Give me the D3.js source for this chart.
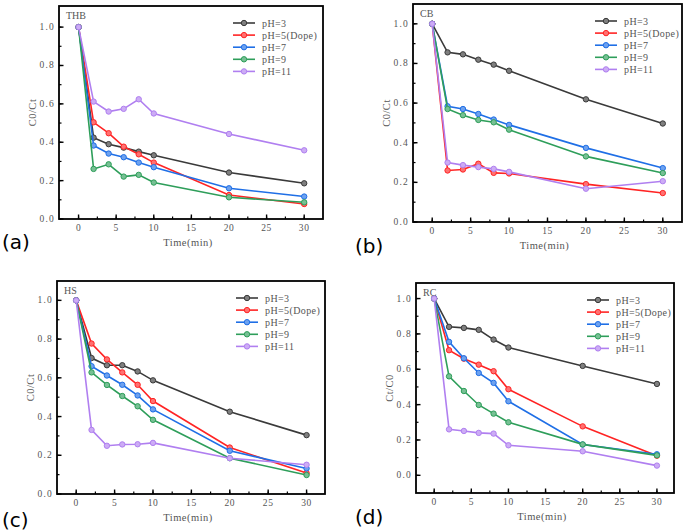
<!DOCTYPE html>
<html><head><meta charset="utf-8">
<script src="https://cdn.jsdelivr.net/npm/d3@7"></script>
<style>body{margin:0;background:#fff}svg{display:block}</style>
</head><body>
<svg id="chart" width="685" height="532"></svg>
<script>
const timeValues = [0, 2, 4, 6, 8, 10, 20, 30];
const seriesNames = ["pH=3", "pH=5(Dope)", "pH=7", "pH=9", "pH=11"];
const seriesColors = ["#3a3a3a", "#ff2424", "#1f6fe6", "#2e9e5a", "#b07ff0"];
const xTicks = [0, 5, 10, 15, 20, 25, 30];
const yTicks = [0, 0.2, 0.4, 0.6, 0.8, 1.0];
const panelLetters = ["(a)", "(b)", "(c)", "(d)"];
const panelNames = ["THB", "CB", "HS", "RC"];
const yTitles = ["C0/Ct", "C0/Ct", "C0/Ct", "Ct/C0"];

const thbValues = [
  [1.0, 0.424, 0.39, 0.372, 0.351, 0.332, 0.242, 0.186],
  [1.0, 0.504, 0.447, 0.377, 0.337, 0.294, 0.125, 0.078],
  [1.0, 0.383, 0.341, 0.322, 0.294, 0.27, 0.16, 0.117],
  [1.0, 0.261, 0.285, 0.221, 0.23, 0.19, 0.113, 0.087],
  [1.0, 0.612, 0.56, 0.574, 0.624, 0.55, 0.443, 0.358]
];
const cbValues = [
  [1.0, 0.856, 0.846, 0.819, 0.794, 0.763, 0.619, 0.497],
  [1.0, 0.26, 0.265, 0.294, 0.248, 0.245, 0.191, 0.146],
  [1.0, 0.584, 0.57, 0.545, 0.517, 0.49, 0.374, 0.272],
  [1.0, 0.57, 0.539, 0.515, 0.503, 0.466, 0.331, 0.247],
  [1.0, 0.3, 0.287, 0.277, 0.268, 0.253, 0.168, 0.206]
];
const hsValues = [
  [1.0, 0.702, 0.665, 0.665, 0.633, 0.587, 0.425, 0.304],
  [1.0, 0.777, 0.695, 0.628, 0.564, 0.48, 0.24, 0.108],
  [1.0, 0.66, 0.612, 0.564, 0.509, 0.437, 0.223, 0.132],
  [1.0, 0.628, 0.563, 0.506, 0.453, 0.383, 0.185, 0.098],
  [1.0, 0.331, 0.249, 0.256, 0.257, 0.264, 0.185, 0.151]
];
const rcValues = [
  [1.0, 0.84, 0.834, 0.823, 0.768, 0.723, 0.619, 0.517],
  [1.0, 0.708, 0.66, 0.626, 0.589, 0.487, 0.277, 0.111],
  [1.0, 0.755, 0.662, 0.579, 0.523, 0.419, 0.174, 0.119],
  [1.0, 0.56, 0.477, 0.398, 0.349, 0.3, 0.175, 0.113],
  [1.0, 0.26, 0.251, 0.24, 0.236, 0.17, 0.136, 0.055]
];
const panelValues = [thbValues, cbValues, hsValues, rcValues];

// layout (frames in pixels)
const frames = [
  {l: 59, r: 323, t: 6, b: 219, xd: [-2.6, 32.5], yd: [0, 1.11], letter: [2, 249], lx: 233},
  {l: 413, r: 682, t: 4, b: 222, xd: [-2.5, 32.5], yd: [0, 1.1], letter: [355, 253], lx: 595},
  {l: 57, r: 325, t: 281, b: 494, xd: [-2.5, 32.4], yd: [0, 1.1], letter: [2, 527], lx: 236},
  {l: 416, r: 674, t: 283, b: 493, xd: [-2.45, 32.3], yd: [-0.1, 1.088], letter: [355, 524], lx: 587}
];

const svg = d3.select("#chart");
const tickFont = "'Liberation Serif', 'DejaVu Serif', serif";
const textColor = "#555";

frames.forEach((f, pi) => {
  const g = svg.append("g");
  const x = d3.scaleLinear().domain(f.xd).range([f.l, f.r]);
  const y = d3.scaleLinear().domain(f.yd).range([f.b, f.t]);

  const xMinor = d3.range(0, 31, 2.5);
  const yMinor = d3.range(0, 1.01, 0.1);
  g.selectAll(".xmin").data(xMinor).join("line")
    .attr("x1", d => x(d)).attr("x2", d => x(d))
    .attr("y1", f.b).attr("y2", f.b - 2.5)
    .attr("stroke", "#000").attr("stroke-width", 1.2);
  g.selectAll(".ymin").data(yMinor).join("line")
    .attr("x1", f.l).attr("x2", f.l + 2.5)
    .attr("y1", d => y(d)).attr("y2", d => y(d))
    .attr("stroke", "#000").attr("stroke-width", 1.2);
  g.selectAll(".xmaj").data(xTicks).join("line")
    .attr("x1", d => x(d)).attr("x2", d => x(d))
    .attr("y1", f.b).attr("y2", f.b - 4.5)
    .attr("stroke", "#000").attr("stroke-width", 1.4);
  g.selectAll(".ymaj").data(yTicks).join("line")
    .attr("x1", f.l).attr("x2", f.l + 4.5)
    .attr("y1", d => y(d)).attr("y2", d => y(d))
    .attr("stroke", "#000").attr("stroke-width", 1.4);

  g.selectAll(".xl").data(xTicks).join("text")
    .attr("x", d => x(d)).attr("y", f.b + 12)
    .attr("text-anchor", "middle")
    .attr("font-family", tickFont).attr("font-size", 9.5).attr("fill", textColor)
    .attr("letter-spacing", 0.6)
    .text(d => d);
  g.selectAll(".yl").data(yTicks).join("text")
    .attr("x", f.l - 4).attr("y", d => y(d) + 3)
    .attr("text-anchor", "end")
    .attr("font-family", tickFont).attr("font-size", 9.5).attr("fill", textColor)
    .attr("letter-spacing", 1.2)
    .text(d => d3.format(".1f")(d));

  g.append("text")
    .attr("x", (f.l + f.r) / 2 - 3).attr("y", f.b + 27)
    .attr("text-anchor", "middle")
    .attr("font-family", tickFont).attr("font-size", 10.5).attr("fill", textColor)
    .attr("letter-spacing", 0.5)
    .text("Time(min)");
  g.append("text")
    .attr("transform", `translate(${f.l - 23},${(f.t + f.b) / 2}) rotate(-90)`)
    .attr("text-anchor", "middle")
    .attr("font-family", tickFont).attr("font-size", 10.5).attr("fill", textColor)
    .attr("letter-spacing", 0.5)
    .text(yTitles[pi]);

  g.append("text")
    .attr("x", f.l + 7).attr("y", f.t + 13)
    .attr("font-family", tickFont).attr("font-size", 10).attr("fill", textColor)
    .text(panelNames[pi]);

  svg.append("text")
    .attr("x", f.letter[0]).attr("y", f.letter[1])
    .attr("font-family", "'DejaVu Sans', sans-serif").attr("font-size", 20).attr("fill", "#000")
    .text(panelLetters[pi]);

  const line = d3.line().x((d, i) => x(timeValues[i])).y(d => y(d));
  panelValues[pi].forEach((vals, si) => {
    const c = seriesColors[si];
    const sg = g.append("g");
    sg.append("path").datum(vals)
      .attr("d", line).attr("fill", "none")
      .attr("stroke", c).attr("stroke-width", 1.6);
    sg.selectAll("circle").data(vals).join("circle")
      .attr("cx", (d, i) => x(timeValues[i])).attr("cy", d => y(d))
      .attr("r", 2.7)
      .attr("fill", d3.interpolateRgb(c, "#fff")(0.35))
      .attr("stroke", c).attr("stroke-width", 1);
  });

  const lg = g.append("g");
  seriesNames.forEach((n, si) => {
    const yy = f.t + 17 + si * 12.1;
    const c = seriesColors[si];
    lg.append("line").attr("x1", f.lx).attr("x2", f.lx + 22)
      .attr("y1", yy).attr("y2", yy)
      .attr("stroke", c).attr("stroke-width", 1.6);
    lg.append("circle").attr("cx", f.lx + 11).attr("cy", yy).attr("r", 2.7)
      .attr("fill", d3.interpolateRgb(c, "#fff")(0.35))
      .attr("stroke", c).attr("stroke-width", 1);
    lg.append("text").attr("x", f.lx + 29).attr("y", yy + 3.5)
      .attr("font-family", tickFont).attr("font-size", 10).attr("fill", textColor)
      .attr("letter-spacing", 0.4)
      .text(n);
  });

  g.append("rect")
    .attr("x", f.l).attr("y", f.t)
    .attr("width", f.r - f.l).attr("height", f.b - f.t)
    .attr("fill", "none").attr("stroke", "#000").attr("stroke-width", 1.8);
});
</script>
</body></html>
